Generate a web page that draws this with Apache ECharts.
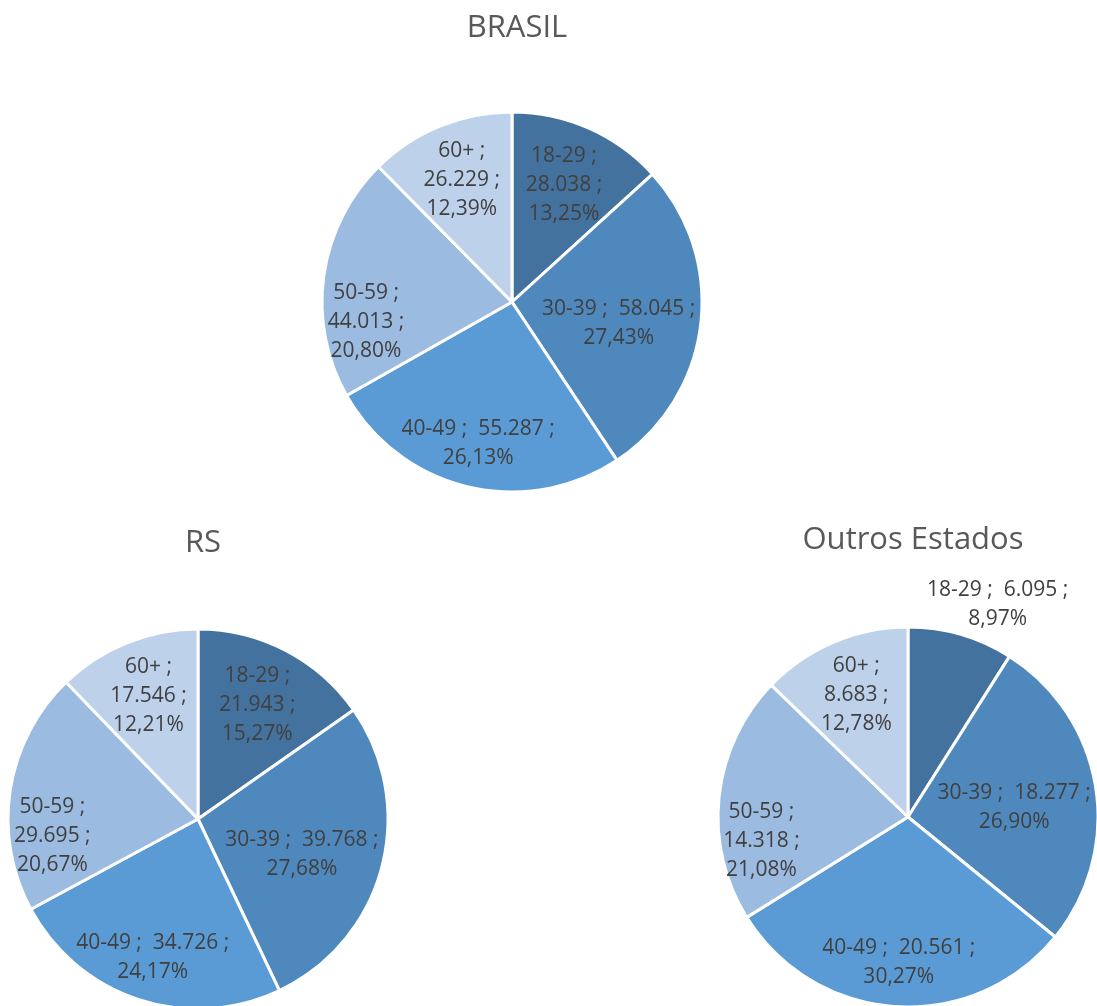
<!DOCTYPE html>
<html>
<head>
<meta charset="utf-8">
<script src="https://cdn.jsdelivr.net/npm/echarts@6/dist/echarts.min.js"></script>
<style>
html,body{margin:0;padding:0;background:#fff;}
#main{width:1097px;height:1006px;}
</style>
</head>
<body>
<div id="main"></div>
<script>
// ---- Data ----
const categories = ['18-29', '30-39', '40-49', '50-59', '60+'];
const brasilValues = [28038, 58045, 55287, 44013, 26229];
const rsValues = [21943, 39768, 34726, 29695, 17546];
const outrosValues = [6095, 18277, 20561, 14318, 8683];
const chartTitles = ['BRASIL', 'RS', 'Outros Estados'];

// ---- Style / layout ----
const sliceColors = ['#43729E', '#4F88BD', '#5B9BD5', '#9BBBE0', '#BDD1EB'];
const labelRadiusFrac = [0.66, 0.55, 0.75, 0.76, 0.68]; // where each slice label sits, as share of radius
const labelNudgeY = [0, 8, 0, 40, 0];                    // best-fit style nudge of labels
const outsideNudgeX = 28;
const R = 190;
const layouts = [
  { cx: 512, cy: 302, titleY: 8 },
  { cx: 198, cy: 819, titleY: 523 },
  { cx: 908, cy: 817, titleY: 520 }
];
const labelFont = { color: '#404040', fontSize: 21, fontFamily: 'Open Sans', lineHeight: 29, align: 'center' };

function fmtNum(v) { return String(v).replace(/\B(?=(\d{3})+(?!\d))/g, '.'); }
function fmtPct(p) { return p.toFixed(2).replace('.', ',') + '%'; }

const valueSets = [brasilValues, rsValues, outrosValues];
const series = [];
const titles = [];

valueSets.forEach(function (vals, ci) {
  const L = layouts[ci];
  const sum = vals.reduce(function (a, b) { return a + b; }, 0);
  const pcts = vals.map(function (v) { return v / sum * 100; });
  titles.push({
    text: chartTitles[ci], left: L.cx, top: L.titleY, textAlign: 'center',
    textStyle: { fontFamily: 'Open Sans', fontSize: 31, fontWeight: 'normal', color: '#595959' }
  });
  const center = [L.cx, L.cy];
  // visible pie
  series.push({
    type: 'pie', center: center, radius: [0, R], startAngle: 90, clockwise: true,
    silent: true, label: { show: false }, labelLine: { show: false },
    itemStyle: { borderColor: '#ffffff', borderWidth: 3 },
    data: vals.map(function (v, i) { return { name: categories[i], value: v, itemStyle: { color: sliceColors[i] } }; })
  });
  const formatter = function (p) {
    const outside = p.percent < 10;
    if (outside || p.percent >= 22) {
      return p.name + ' ;  ' + fmtNum(p.value) + ' ;\n' + fmtPct(p.percent);
    }
    return p.name + ' ;\n' + fmtNum(p.value) + ' ;\n' + fmtPct(p.percent);
  };
  // transparent label rings, one per category (label sits mid-ring)
  categories.forEach(function (cat, k) {
    const inside = pcts[k] >= 10;
    const f = labelRadiusFrac[k];
    const radius = inside ? [R * (2 * f - 1), R] : [R, R * 1.3];
    series.push({
      type: 'pie', center: center, radius: radius, startAngle: 90, clockwise: true,
      silent: true, labelLine: { show: false },
      itemStyle: { color: 'rgba(0,0,0,0)', borderWidth: 0 },
      label: Object.assign({ show: true, position: 'inside', formatter: formatter }, labelFont),
      labelLayout: inside ? { dy: labelNudgeY[k] } : { dx: outsideNudgeX },
      data: vals.map(function (v, i) { return { name: categories[i], value: v, label: { show: i === k } }; })
    });
  });
});

const chart = echarts.init(document.getElementById('main'));
chart.setOption({
  animation: false,
  backgroundColor: '#ffffff',
  title: titles,
  series: series
});
</script>
</body>
</html>
